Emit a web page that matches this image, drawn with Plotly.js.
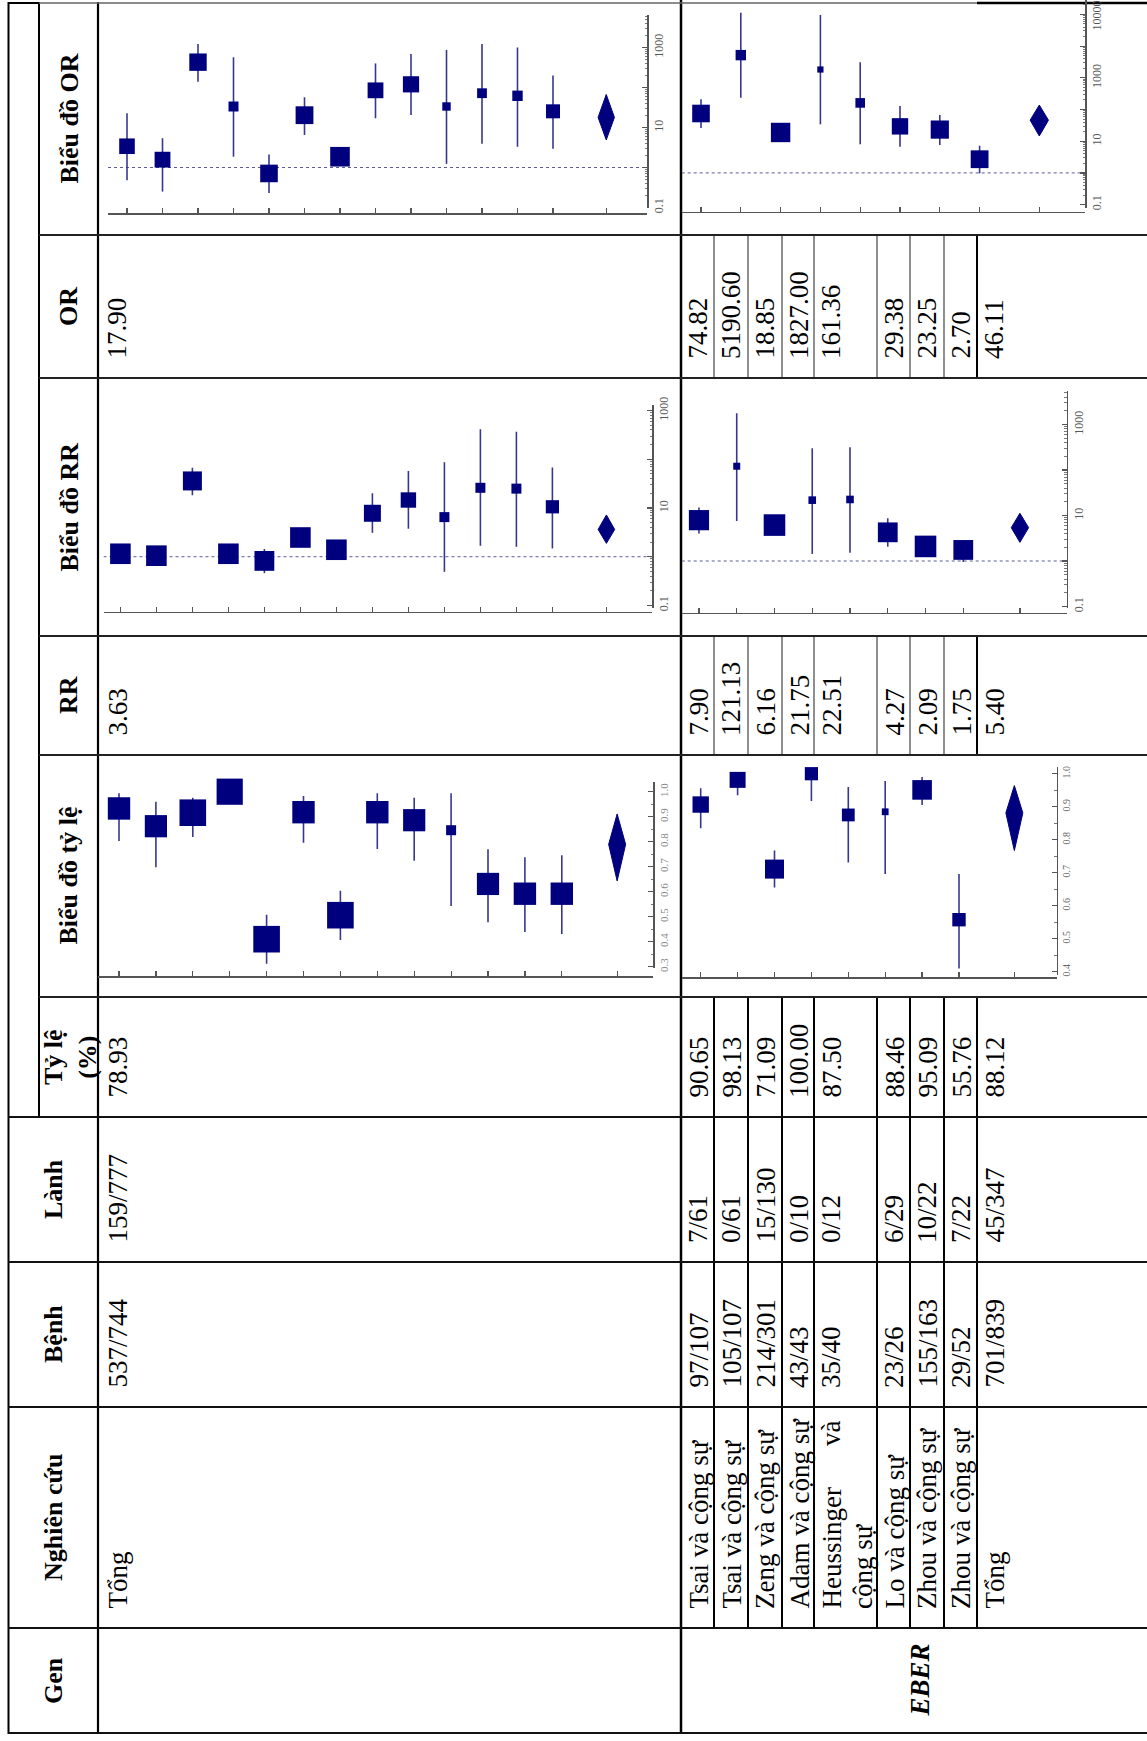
<!DOCTYPE html>
<html>
<head>
<meta charset="utf-8">
<script src="https://cdn.plot.ly/plotly-3.0.1.min.js"></script>
<style>
html,body{margin:0;padding:0;background:#ffffff;}
#chart{width:1147px;height:1741px;}
</style>
</head>
<body>
<div id="chart"></div>
<script>
// ===================== DATA =====================
// Group 1 (gene named on the previous page): 13 studies + pooled "Tổng"
const g1OR     = [3.4, 1.57, 430, 33.5, 0.71, 20.3, 1.86, 85, 120, 33.5, 72, 62, 25.4];
const g1ORlo   = [0.48, 0.25, 140, 1.86, 0.23, 6.5, 1.2, 17, 20.5, 1.23, 3.9, 3.3, 2.95];
const g1ORhi   = [22.6, 5.4, 1230, 569, 2.1, 57, 2.8, 400, 690, 870, 1230, 1000, 200];
const g1ORwt   = [0.78, 0.79, 0.87, 0.50, 0.88, 0.89, 0.98, 0.79, 0.81, 0.42, 0.49, 0.52, 0.70];
const g1ORpool = [17.90, 4.9, 67];

const g1RR     = [1.15, 1.05, 36, 1.15, 0.82, 2.48, 1.39, 7.8, 14.6, 6.5, 26, 25, 10.6];
const g1RRlo   = [0.9, 0.85, 18.2, 0.9, 0.46, 2.0, 1.1, 3.1, 3.76, 0.49, 1.68, 1.6, 1.48];
const g1RRhi   = [1.45, 1.3, 67, 1.45, 1.44, 3.1, 1.75, 20, 57.5, 87, 413, 370, 68];
const g1RRwt   = [1.03, 1.03, 0.95, 1.03, 0.99, 1.03, 1.03, 0.85, 0.77, 0.50, 0.50, 0.50, 0.66];
const g1RRpool = [3.63, 1.88, 7.2];

const g1P      = [0.933, 0.862, 0.916, 1.0, 0.41, 0.918, 0.506, 0.918, 0.886, 0.846, 0.631, 0.592, 0.592];
const g1Plo    = [0.803, 0.698, 0.819, 0.96, 0.312, 0.796, 0.407, 0.771, 0.724, 0.543, 0.478, 0.439, 0.431];
const g1Phi    = [0.994, 0.96, 0.976, 1.0, 0.508, 0.983, 0.604, 0.994, 0.976, 0.994, 0.77, 0.738, 0.746];
const g1Pwt    = [1.12, 1.11, 1.33, 1.31, 1.33, 1.12, 1.33, 1.12, 1.11, 0.50, 1.11, 1.12, 1.12];
const g1Ppool  = [0.7893, 0.643, 0.911];

// order: study, Bệnh, Lành, Tỷ lệ, RR, OR
const g1Total  = ['Tổng', '537/744', '159/777', '78.93', '3.63', '17.90'];

// EBER group
const ebGene    = 'EBER';
const ebStudies = ['Tsai và cộng sự', 'Tsai và cộng sự', 'Zeng và cộng sự', 'Adam và cộng sự',
                   'Heussinger và cộng sự', 'Lo và cộng sự', 'Zhou và cộng sự', 'Zhou và cộng sự'];
const ebBenh    = ['97/107', '105/107', '214/301', '43/43', '35/40', '23/26', '155/163', '29/52'];
const ebLanh    = ['7/61', '0/61', '15/130', '0/10', '0/12', '6/29', '10/22', '7/22'];
const ebTyle    = [90.65, 98.13, 71.09, 100.00, 87.50, 88.46, 95.09, 55.76];
const ebRR      = [7.90, 121.13, 6.16, 21.75, 22.51, 4.27, 2.09, 1.75];
const ebOR      = [74.82, 5190.60, 18.85, 1827.00, 161.36, 29.38, 23.25, 2.70];
const ebTotal   = ['Tổng', '701/839', '45/347', '88.12', '5.40', '46.11'];

const ebORlo   = [26, 236, 11, 34, 8, 6.7, 7.6, 0.97];
const ebORhi   = [209, 112000, 32, 96000, 3090, 129, 67, 7.2];
const ebORwt   = [0.88, 0.52, 0.97, 0.31, 0.48, 0.82, 0.91, 0.89];
const ebORpool = [46.11, 14.6, 138];

const ebRRlo   = [4.0, 7.6, 4.0, 1.43, 1.52, 2.06, 1.5, 0.95];
const ebRRhi   = [15, 1760, 9.5, 300, 316, 8.7, 2.9, 2.6];
const ebRRwt   = [1.01, 0.35, 1.08, 0.38, 0.38, 0.99, 1.08, 0.99];
const ebRRpool = [5.40, 2.57, 11.2];

const ebPlo    = [0.835, 0.935, 0.655, 0.917, 0.731, 0.696, 0.905, 0.41];
const ebPhi    = [0.956, 1.0, 0.767, 1.0, 0.96, 0.978, 0.99, 0.696];
const ebPwt    = [0.82, 0.80, 0.95, 0.66, 0.64, 0.34, 0.98, 0.67];
const ebPpool  = [0.8812, 0.767, 0.964];

const headerLabels = ['Biểu đồ OR', 'OR', 'Biểu đồ RR', 'RR', 'Biểu đồ tỷ lệ', 'Tỷ lệ<br>(%)',
                      'Lành', 'Bệnh', 'Nghiên cứu', 'Gen'];
const NULL_VALUE = 1;

// ===================== LAYOUT / STYLE =====================
const W = 1147, H = 1741;
const SERIF = '"Liberation Serif", "Times New Roman", serif';
const NAVY = '#00007f', CICOL = '#37378f', AX = '#555555';
const BOX = 20, DW = 0.23;
const px = x => x / W, py = y => 1 - y / H;

const traces = [];
const layout = {
  width: W, height: H, margin: {l: 0, r: 0, t: 0, b: 0},
  paper_bgcolor: '#ffffff', plot_bgcolor: 'rgba(0,0,0,0)',
  showlegend: false, shapes: [], annotations: [], hovermode: false
};

const logTicks = [0.1, 1, 10, 100, 1000, 10000, 100000];
const logText  = ['0.1', '', '10', '', '1000', '', '100000'];
const logMinor = [];
for (let e = -1; e <= 5; e++) for (let m = 2; m <= 9; m++) logMinor.push(m * Math.pow(10, e));

function forest(k, est, lo, hi, wt, pool, g) {
  const xa = k === 1 ? 'x' : 'x' + k, ya = k === 1 ? 'y' : 'y' + k;
  const pos = est.map((_, i) => i + 1);
  const pp = est.length + 1.5;
  const xr = [(g.x0 - g.a) / g.b, (g.x1 - g.a) / g.b];
  if (g.ref !== undefined) {
    traces.push({type: 'scatter', mode: 'lines', x: xr, y: [g.ref, g.ref], xaxis: xa, yaxis: ya,
      line: {color: '#5a5a98', width: 1, dash: 'dot'}, hoverinfo: 'skip'});
  }
  traces.push({type: 'scatter', mode: 'markers', x: pos, y: est, xaxis: xa, yaxis: ya, cliponaxis: false,
    marker: {symbol: 'square', size: wt.map(w => w * BOX), color: NAVY, opacity: 1, line: {width: 0}},
    error_y: {type: 'data', symmetric: false,
      array: hi.map((h, i) => h - est[i]), arrayminus: lo.map((l, i) => est[i] - l),
      width: 0, thickness: 1.6, color: CICOL}});
  traces.push({type: 'scatter', mode: 'lines', x: [pp - DW, pp, pp + DW, pp, pp - DW],
    y: [pool[0], pool[2], pool[0], pool[1], pool[0]], fill: 'toself', fillcolor: NAVY,
    line: {color: NAVY, width: 1}, xaxis: xa, yaxis: ya, cliponaxis: false});

  const sfx = k === 1 ? '' : String(k);
  layout['xaxis' + sfx] = {
    domain: [px(g.x0), px(g.x1)], range: xr, anchor: 'free', position: py(g.xlineY),
    showline: true, linecolor: AX, linewidth: 1.5, ticks: 'inside', ticklen: 5, tickwidth: 1.2,
    tickcolor: AX, tickmode: 'array', tickvals: pos.concat([pp]), showticklabels: false,
    showgrid: false, zeroline: false, fixedrange: true
  };
  const isLog = g.type === 'log';
  layout['yaxis' + sfx] = {
    domain: [py(g.yBot), py(g.yTop)], type: g.type, range: g.range, anchor: 'free',
    position: px(g.ylineX), side: 'right', showline: true, linecolor: AX, linewidth: 1.5,
    ticks: 'inside', ticklen: 5, tickwidth: 1.2, tickcolor: AX, tickmode: 'array',
    tickvals: g.tickvals, ticktext: g.ticktext, tickangle: -90, ticklabeloverflow: 'allow',
    tickfont: {family: SERIF, size: g.fs, color: g.fc},
    minor: isLog ? {tickmode: 'array', tickvals: logMinor, ticks: 'inside', ticklen: 2.5, tickcolor: '#777', tickwidth: 1}
                 : {tickmode: 'array', tickvals: g.minor, ticks: 'inside', ticklen: 2.5, tickcolor: '#777', tickwidth: 1},
    showgrid: false, zeroline: false, fixedrange: true
  };
}

const ratio1Ticks = [0.3, 0.4, 0.5, 0.6, 0.7, 0.8, 0.9, 1.0];
const ratio2Ticks = [0.4, 0.5, 0.6, 0.7, 0.8, 0.9, 1.0];
const fmt1 = v => v.toFixed(1);

forest(1, g1OR, g1ORlo, g1ORhi, g1ORwt, g1ORpool,
  {x0: 108, x1: 647, a: 91.5, b: 35.5, xlineY: 213, yTop: 15, yBot: 208, ylineX: 647,
   type: 'log', range: [-1.0125, 3.8125], ref: NULL_VALUE, tickvals: logTicks, ticktext: logText, fs: 12, fc: '#555'});
forest(2, g1RR, g1RRlo, g1RRhi, g1RRwt, g1RRpool,
  {x0: 103.5, x1: 652, a: 84.4, b: 36.0, xlineY: 611.7, yTop: 405, yBot: 608, ylineX: 652,
   type: 'log', range: [-1.053, 3.115], ref: NULL_VALUE, tickvals: logTicks, ticktext: logText, fs: 12, fc: '#555'});
forest(3, g1P, g1Plo, g1Phi, g1Pwt, g1Ppool,
  {x0: 98, x1: 653, a: 82.1, b: 36.9, xlineY: 976, yTop: 781.7, yBot: 968, ylineX: 653,
   type: 'linear', range: [0.2948, 1.04], tickvals: ratio1Ticks, ticktext: ratio1Ticks.map(fmt1),
   minor: ratio1Ticks.map(v => v + 0.05), fs: 11, fc: '#888'});
forest(4, ebOR, ebORlo, ebORhi, ebORwt, ebORpool,
  {x0: 681.7, x1: 1085, a: 661.2, b: 39.8, xlineY: 211.7, yTop: 0, yBot: 208, ylineX: 1085,
   type: 'log', range: [-1.107, 5.454], ref: NULL_VALUE, tickvals: logTicks, ticktext: logText, fs: 12, fc: '#555'});
forest(5, ebRR, ebRRlo, ebRRhi, ebRRwt, ebRRpool,
  {x0: 681.7, x1: 1066.7, a: 661.2, b: 37.76, xlineY: 612.7, yTop: 390.7, yBot: 608, ylineX: 1066.7,
   type: 'log', range: [-1.033, 3.743], ref: NULL_VALUE, tickvals: logTicks, ticktext: logText, fs: 12, fc: '#555'});
forest(6, ebTyle.map(v => v / 100), ebPlo, ebPhi, ebPwt, ebPpool,
  {x0: 681.7, x1: 1056.7, a: 663.8, b: 36.9, xlineY: 977.3, yTop: 766.7, yBot: 975, ylineX: 1056.7,
   type: 'linear', range: [0.39, 1.0212], tickvals: ratio2Ticks, ticktext: ratio2Ticks.map(fmt1),
   minor: ratio2Ticks.map(v => v + 0.05), fs: 10, fc: '#666'});

// ---------- table grid ----------
function hline(y, x0, x1, w, c) {
  layout.shapes.push({type: 'line', xref: 'paper', yref: 'paper', x0: px(x0), x1: px(x1), y0: py(y), y1: py(y),
    line: {color: c, width: w}, layer: 'below'});
}
function vline(x, y0, y1, w, c) {
  layout.shapes.push({type: 'line', xref: 'paper', yref: 'paper', x0: px(x), x1: px(x), y0: py(y0), y1: py(y1),
    line: {color: c, width: w}, layer: 'below'});
}
const edges = [3, 235, 378, 636, 755, 997, 1117, 1262, 1407, 1628, 1733];
const rowLeftE = [681, 714, 748, 782, 814, 877, 910, 944];
const totLeftE = 977, totLeftG1 = 98, tableRight = 1147;

vline(8.5, 2, 1734, 2, '#000');
vline(39, 2, 1117, 2, '#000');
vline(98, 2, 1734, 2.2, '#000');
vline(681, 0, 1734, 2.5, '#000');
rowLeftE.slice(1).concat([totLeftE]).forEach(x => {
  const thick = x === totLeftE;
  vline(x, 235, 378, thick ? 2 : 1.2, thick ? '#000' : '#444');
  vline(x, 636, 755, thick ? 2 : 1.2, thick ? '#000' : '#444');
  vline(x, 997, 1628, 2, '#000');
});
hline(3, 8, 39, 2, '#000');
hline(3, 39, tableRight, 1.4, '#666');
hline(3, totLeftE, tableRight, 2.5, '#000');
[235, 378, 636, 755, 997].forEach(y => hline(y, 39, tableRight, 1.8, '#222'));
[1117, 1262, 1407, 1628, 1733].forEach(y => hline(y, 8, tableRight, 1.8, '#111'));

// ---------- text ----------
function T(text, x, y, xanchor, yanchor, size) {
  return {text: text, x: px(x), y: py(y), xref: 'paper', yref: 'paper', xanchor: xanchor, yanchor: yanchor,
    showarrow: false, textangle: -90, borderpad: 0,
    font: {family: SERIF, size: size || 27, color: '#000'}};
}
// headers
headerLabels.forEach((lab, i) => {
  const cy = (edges[i] + edges[i + 1]) / 2;
  const cx = i < 5 ? 68.5 : (i === 5 ? 70 : 53.5);
  layout.annotations.push(T('<b>' + lab + '</b>', cx, cy, 'center', 'middle', 26));
});
layout.annotations.push(T('<b><i>' + ebGene + '</i></b>', 919, (edges[9] + edges[10]) / 2, 'center', 'middle', 27));

// column bottoms for: study, Bệnh, Lành, Tỷ lệ, RR, OR
const colBottom = [1628, 1407, 1262, 1117, 755, 378];
const colTop    = [1407, 1262, 1117, 997, 636, 235];
const PADB = 18, PADT = 12;
function cell(str, left, width, ci) {
  const bottom = colBottom[ci], top = colTop[ci];
  if (width > 50 && str.split(' ').length > 2) {
    const w = str.split(' ');
    layout.annotations.push(T(w[0], left + 1, bottom - PADB, 'left', 'bottom'));
    layout.annotations.push(T(w[1], left + 1, top + PADT, 'left', 'top'));
    layout.annotations.push(T(w.slice(2).join(' '), left + 33, bottom - PADB, 'left', 'bottom'));
  } else {
    layout.annotations.push(T(str, left + 1, bottom - PADB, 'left', 'bottom'));
  }
}
g1Total.forEach((s, ci) => cell(s, totLeftG1 + 2, 500, ci));
const ebCols = [ebStudies, ebBenh, ebLanh, ebTyle.map(v => v.toFixed(2)), ebRR.map(v => v.toFixed(2)), ebOR.map(v => v.toFixed(2))];
rowLeftE.forEach((left, r) => {
  const width = (r + 1 < rowLeftE.length ? rowLeftE[r + 1] : totLeftE) - left;
  ebCols.forEach((col, ci) => cell(col[r], left, width, ci));
});
ebTotal.forEach((s, ci) => cell(s, totLeftE, 40, ci));

Plotly.newPlot('chart', traces, layout, {staticPlot: true, displayModeBar: false});
</script>
</body>
</html>
